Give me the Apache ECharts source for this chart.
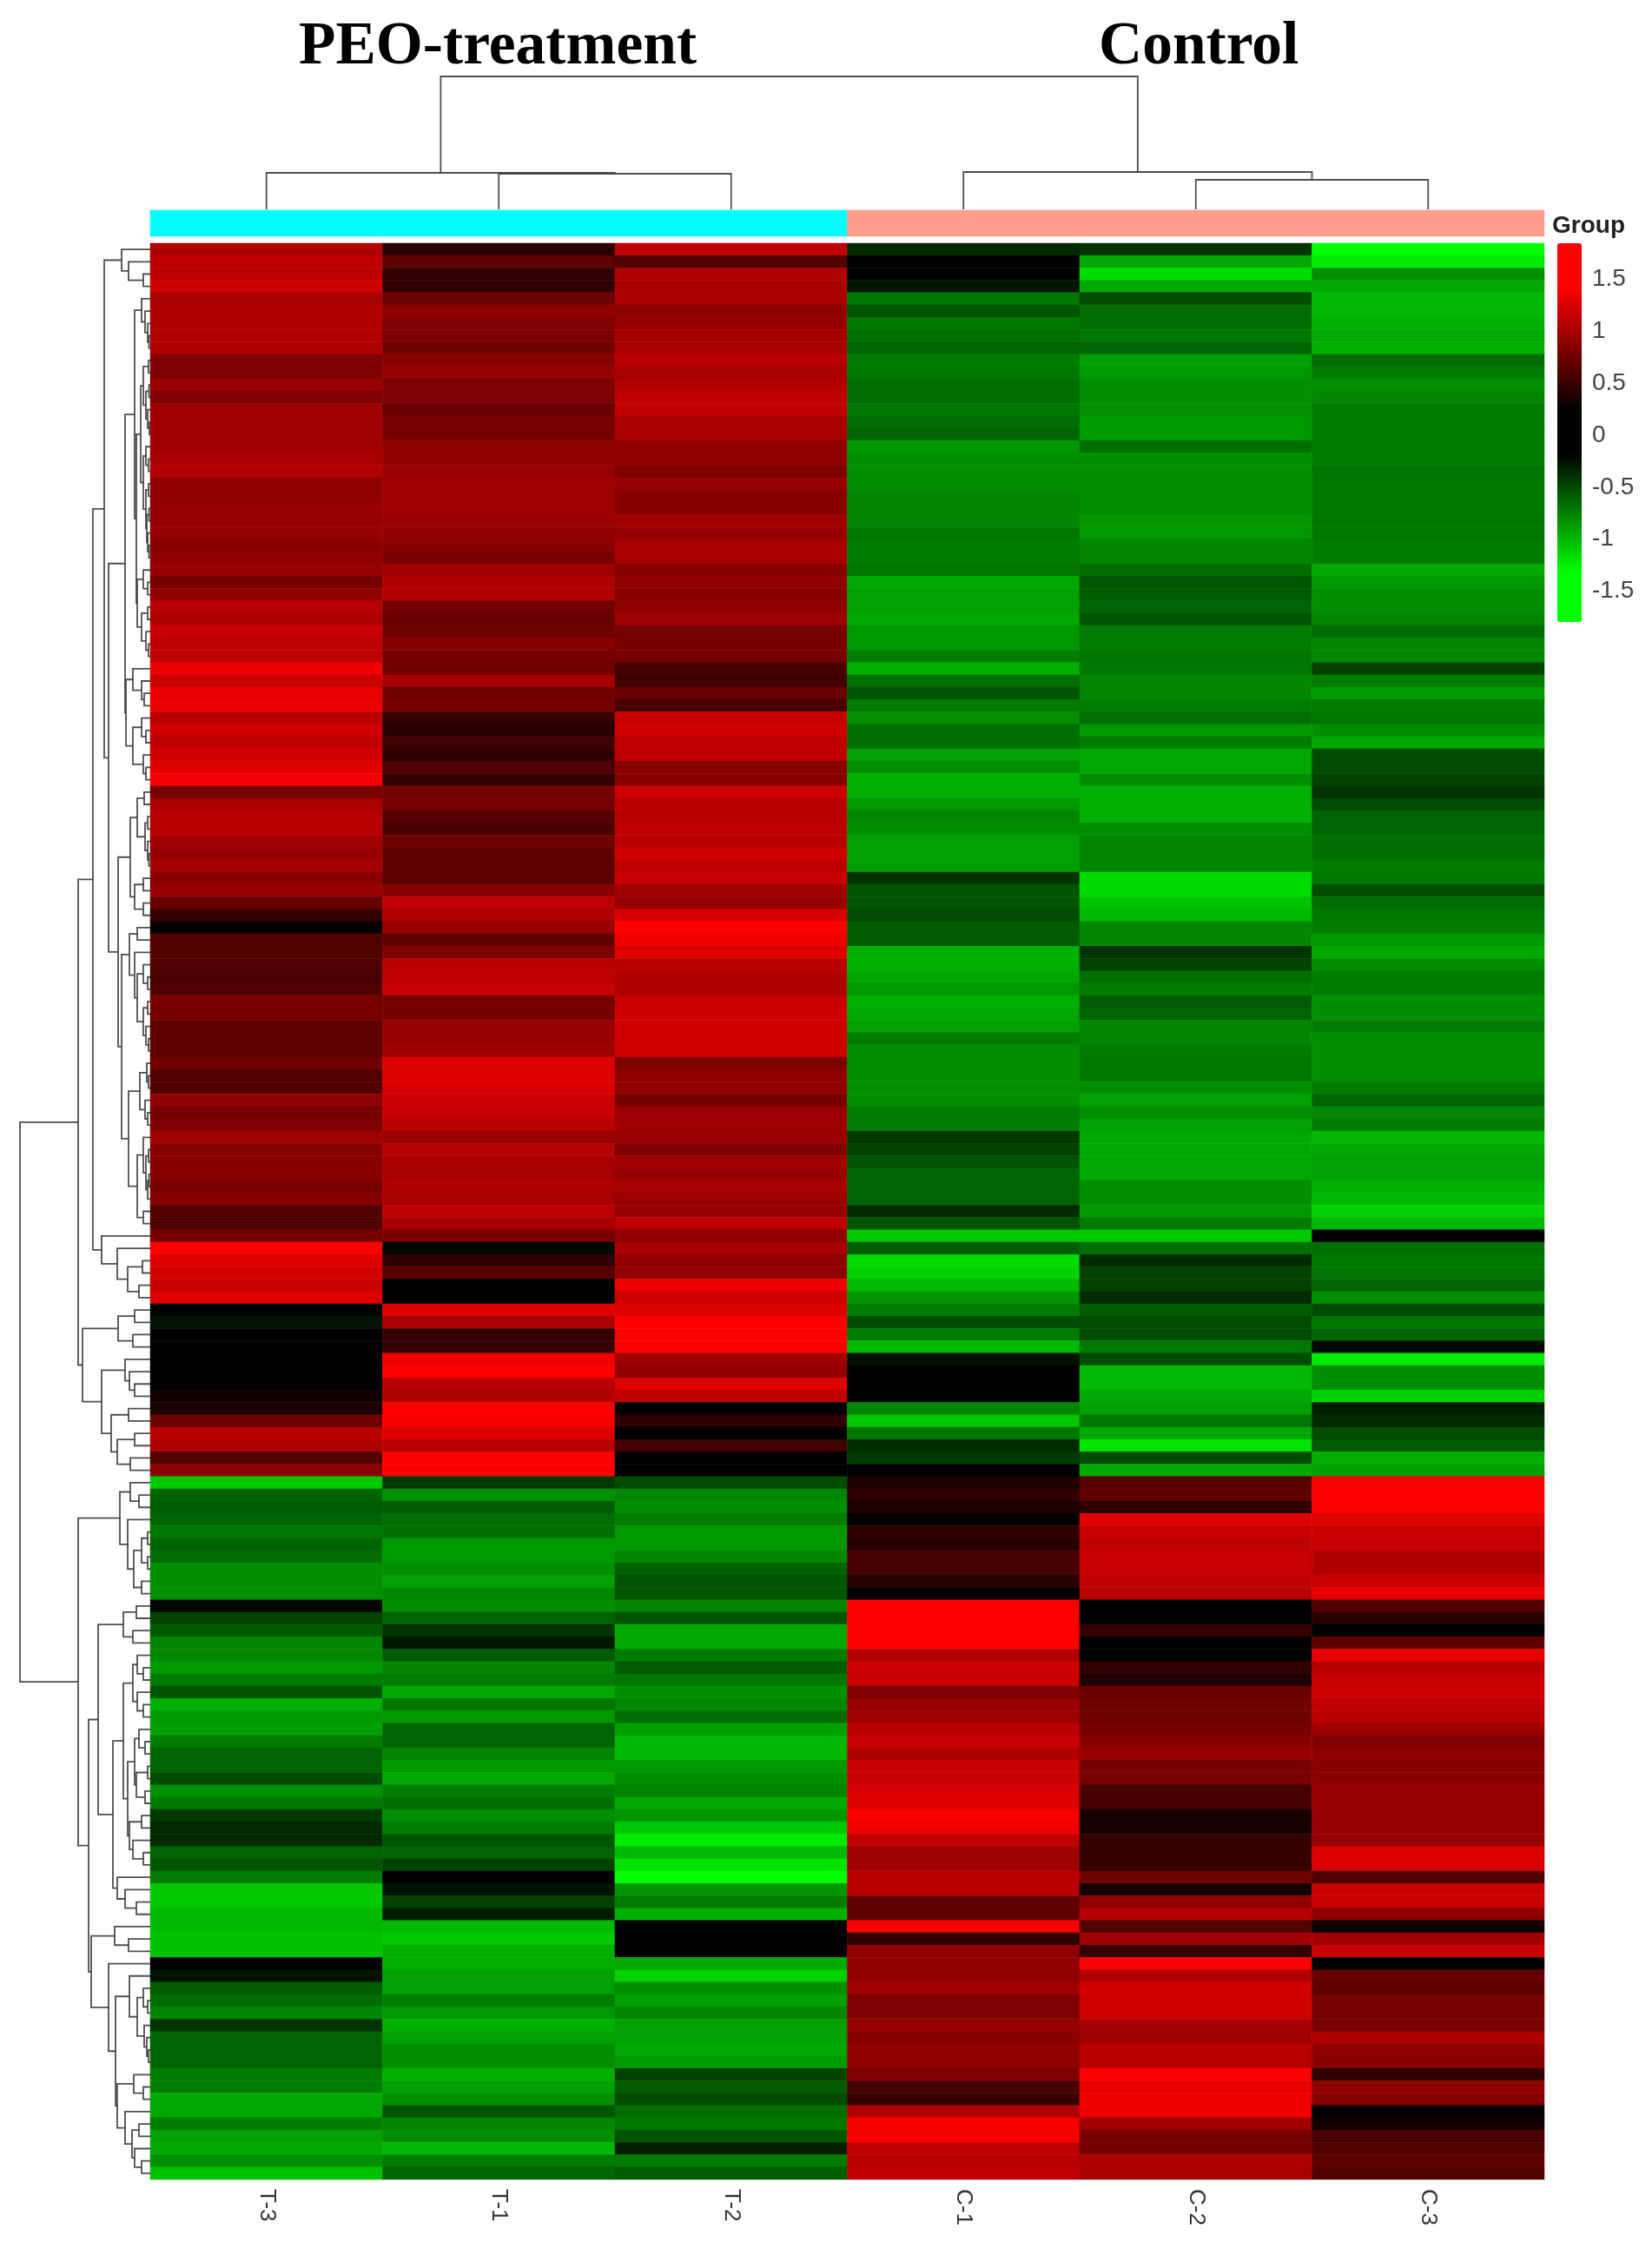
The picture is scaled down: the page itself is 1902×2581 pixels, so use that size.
<!DOCTYPE html>
<html>
<head>
<meta charset="utf-8">
<script src="https://cdn.jsdelivr.net/npm/echarts@6/dist/echarts.min.js"></script>
<style>
    html, body { margin: 0; padding: 0; background: #fff; }
    #chart { width: 1902px; height: 2581px; }
</style>
</head>
<body>
<div id="chart"></div>
<script>
// columns in the order they are drawn
const samples = ['T-3', 'T-1', 'T-2', 'C-1', 'C-2', 'C-3'];
const sampleGroups = ['PEO-treatment', 'PEO-treatment', 'PEO-treatment', 'Control', 'Control', 'Control'];
const legendTicks = [-1.5, -1, -0.5, 0, 0.5, 1, 1.5];

// z-scores, one value per row, top to bottom
const valuesT3 = [
    1.03,1.10,1.08,1.18,.99,1.03,1.03,1.03,1.03,.80,.80,.92,.80,.95,.95,.95,.95,.99,1.03,.88,.88,.92,.92,.92,.84,.88,.92,.76,.88,1.07,1.03,1.14,1.10,1.10,1.33,1.14,1.29,1.31,1.07,
    1.18,1.10,1.18,1.25,1.35,.76,.99,1.07,1.07,.95,.92,.99,.84,.92,.69,.46,.24,.58,.58,.58,.54,.58,.76,.76,.65,.65,.65,.73,.58,.58,.88,.76,.80,.95,.84,.84,.84,.76,.84,
    .58,.58,.76,1.6,1.25,1.18,1.14,1.25,-.22,-.28,0,0,0,0,0,.28,.34,.73,1.07,1.03,.58,.84,
    -1.10,-.65,-.61,-.65,-.73,-.65,-.69,-.84,-.84,-.84,-.24,-.50,-.61,-.80,-.80,-.88,-.76,-.58,-.99,-.88,-.92,-.76,-.65,-.65,-.54,-.84,-.73,-.46,-.39,-.39,-.65,-.58,-.76,-1.10,-1.10,-1.03,-1.03,-1.07,-1.07,0,-.28,-.61,-.69,-.80,-.43,-.65,-.65,-.65,-.76,-.76,-.95,-.95,-.76,-.92,-.95,-.84,-1.07
];
const valuesT1 = [
    .39,.65,.43,.43,.73,.88,.80,.80,.73,.84,.92,.80,.80,.69,.76,.76,.88,.88,.92,.95,.95,.95,.92,.88,.84,.76,.95,1.03,1.03,.73,.69,.73,.84,.76,.73,.99,.73,.76,.46,
    .39,.50,.43,.58,.46,.76,.76,.61,.54,.73,.65,.65,.65,.84,1.10,1.03,.92,.65,.80,1.07,1.10,1.14,.76,.76,.92,.92,.95,1.25,1.25,1.22,1.14,1.14,1.07,.92,1.07,.99,.99,1.03,.99,
    1.10,.99,.76,-.24,.43,.61,0,0,1.25,.99,.43,.46,1.33,1.6,1.07,1.03,1.6,1.37,1.25,1.07,1.6,1.6,
    -.46,-.84,-.61,-.69,-.69,-.88,-.88,-.84,-.92,-.80,-.84,-.65,-.43,-.31,-.61,-.80,-.76,-.95,-.73,-.88,-.65,-.65,-.80,-.88,-.95,-.76,-.69,-.84,-.76,-.58,-.65,-.50,0,-.28,-.50,-.34,-1.03,-1.10,-.99,-.99,-.92,-.92,-.76,-.88,-.99,-.92,-.84,-.84,-.99,-.92,-.84,-.58,-.80,-.84,-1.03,-.76,-.65
];
const valuesT2 = [
    1.10,.58,1.03,.99,.99,.88,.92,.99,.99,1.07,.99,1.03,1.10,1.10,.99,.99,.88,.88,.80,.92,.84,.84,.95,.92,.99,.99,.84,.88,.84,.88,.95,.76,.76,.76,.54,.50,.69,.54,1.14,
    1.18,1.10,1.10,.84,.84,1.18,1.07,1.07,1.10,1.07,1.18,1.10,1.14,.95,.92,1.22,1.6,1.33,1.25,1.07,1.03,1.03,1.14,1.18,1.18,1.18,1.18,.80,.88,.88,.76,.92,.95,.92,.80,.95,.92,.99,.92,
    .92,1.10,.88,.99,.88,.88,1.33,1.18,1.25,1.6,1.6,1.6,.95,.88,1.25,1.10,0,.43,.15,.50,0,0,
    -.54,-.80,-.84,-.76,-.88,-.88,-.80,-.65,-.58,-.58,-.80,-.58,-.95,-.95,-.76,-.61,-.73,-.84,-.80,-.69,-.92,-1.03,-1.03,-.88,-.84,-.80,-.95,-.88,-1.10,-1.25,-1.03,-1.22,-1.6,-.88,-.76,-.99,0,0,0,-.95,-1.14,-.84,-.92,-.80,-.92,-.92,-.95,-.88,-.50,-.61,-.54,-.69,-.73,-.58,-.34,-.76,-.61
];
const valuesC1 = [
    -.39,0,-.1,-.31,-.73,-.58,-.73,-.69,-.65,-.76,-.73,-.69,-.69,-.73,-.69,-.65,-.88,-.84,-.84,-.84,-.80,-.80,-.80,-.73,-.76,-.76,-.73,-.95,-.92,-.92,-.95,-.88,-.88,-.76,-.99,-.69,-.58,-.76,-.84,
    -.69,-.69,-.92,-.84,-.99,-.99,-.88,-.80,-.84,-.92,-.92,-.92,-.43,-.58,-.58,-.54,-.61,-.61,-.99,-.99,-.95,-.88,-.99,-.95,-.92,-.76,-.84,-.84,-.84,-.84,-.84,-.76,-.76,-.46,-.50,-.58,-.65,-.65,-.65,
    -.39,-.58,-1.10,-.61,-1.18,-1.14,-1.03,-.88,-.76,-.54,-.76,-1.03,-.28,-.1,-.1,0,-.80,-1.10,-.73,-.39,-.46,0,
    .34,.43,.34,0,.43,.39,.54,.54,.39,0,1.6,1.6,1.6,1.6,1.03,1.18,1.14,.80,.92,.95,1.07,1.14,1.03,1.14,1.14,1.22,1.25,1.37,1.33,1.10,.95,.95,1.07,1.07,.65,.65,1.6,.43,.88,.88,.88,.95,.80,.80,.92,.84,.88,.88,.80,.54,.46,1.03,1.37,1.37,1.10,1.07,1.10
];
const valuesC2 = [
    -.43,-.95,-1.18,-.95,-.54,-.69,-.69,-.73,-.65,-.92,-.88,-.84,-.84,-.84,-.88,-.88,-.69,-.84,-.84,-.84,-.84,-.84,-.88,-.88,-.80,-.80,-.69,-.58,-.61,-.65,-.58,-.76,-.76,-.73,-.73,-.80,-.80,-.76,-.69,
    -.88,-.76,-.95,-.95,-.84,-.99,-.99,-.99,-.84,-.80,-.80,-.80,-1.18,-1.18,-1.07,-1.03,-.80,-.80,-.43,-.50,-.69,-.76,-.61,-.65,-.80,-.80,-.76,-.73,-.73,-.84,-.92,-.84,-.92,-.95,-.95,-.95,-.95,-.84,-.84,
    -.88,-.76,-1.10,-.69,-.39,-.50,-.50,-.39,-.61,-.54,-.54,-.73,-.54,-1.03,-1.03,-.95,-.92,-.73,-.95,-1.22,-.54,-.95,
    .61,.65,.43,1.25,1.14,1.10,1.14,1.14,1.10,1.07,0,0,.46,0,.1,.43,.34,.69,.73,.73,.76,.84,.92,.76,.76,.54,.54,.31,.31,.46,.46,.46,.73,.31,.88,1.07,.58,.95,.46,1.6,1.03,1.18,1.18,1.18,.99,.95,1.07,1.07,1.6,1.29,1.33,1.33,.95,.76,.76,1.03,.99
];
const valuesC3 = [
    -1.6,-1.25,-.84,-.95,-1.03,-1.03,-.99,-.95,-.99,-.69,-.76,-.84,-.80,-.76,-.76,-.76,-.76,-.76,-.73,-.73,-.73,-.73,-.73,-.73,-.76,-.76,-.95,-.88,-.84,-.84,-.80,-.69,-.80,-.80,-.50,-.76,-.88,-.76,-.73,
    -.84,-.95,-.54,-.54,-.50,-.43,-.54,-.65,-.65,-.69,-.69,-.76,-.73,-.54,-.69,-.73,-.76,-.88,-.95,-.84,-.76,-.76,-.84,-.84,-.76,-.84,-.84,-.84,-.84,-.76,-.65,-.80,-.76,-1.03,-.95,-.92,-.92,-.99,-1.03,
    -1.14,-1.03,0,-.69,-.73,-.73,-.65,-.84,-.54,-.73,-.65,-.24,-1.25,-.84,-.84,-1.14,-.34,-.39,-.54,-.61,-.99,-.92,
    1.6,1.6,1.6,1.25,1.14,1.14,1.03,1.03,1.14,1.29,.58,.39,0,.65,1.29,1.07,1.14,1.18,1.10,1.07,.95,.80,.88,.84,.84,.92,.92,.92,.92,.92,1.25,1.22,.58,1.14,1.14,.88,.28,.95,1.14,0,.69,.65,.76,.76,.76,1.03,.88,.84,.43,.88,.84,0,.28,.54,.58,.65,.58
];

// dendrograms: [height, left, right], a plain number is a leaf
const columnTree = [153, [42, 0, [41, 1, 2]], [43, 3, [34, 4, 5]]];
const rowTree = [150,
    [83,
        [66,
            [53,
                [33, 0, [25, 1, [8, 2, 3]]],
                [48,
                    [29,
                        [18,
                            [10, 4, [6, 5, [3, 6, [1.5, 7, 8]]]],
                            [16,
                                [11,
                                    [8, [2, 9, 10], [5, [1.5, 11, 12], [3, 13, [1, 14, 15]]]],
                                    [8, [5, 16, [2, 17, 18]], [5, [2, 19, 20], [4, [1.5, 21, 22], [3, 23, [1.5, 24, 25]]]]]
                                ],
                                [15,
                                    [8, 26, [3, 27, 28]],
                                    [10, [3, 29, 30], [5, 31, [2, 32, 33]]]
                                ]
                            ]
                        ],
                        [28,
                            [20, 34, [10, 35, [7, 36, 37]]],
                            [20, [10, 38, [5, 39, 40]], [8, 41, [5, 42, 43]]]
                        ]
                    ],
                    [37,
                        [23,
                            [15, [7, 44, 45], [6, [3, 46, 47], [3, 48, [1.5, 49, 50]]]],
                            [18, [8, 51, 52], [8, 53, 54]]
                        ],
                        [33,
                            [24,
                                [15, 55, 56],
                                [18, 57, [15, [8, 58, [3, 59, 60]], [8, [3, 61, 62], [5, 63, [2, 64, 65]]]]]
                            ],
                            [25,
                                [12, [4, 66, [2, 67, 68]], [6, 69, [3, 70, 71]]],
                                [15, [8, 72, [5, [2, 73, 74], [3, [1.5, 75, 76], 77]]], [8, 78, 79]]
                            ]
                        ]
                    ]
                ]
            ],
            [56, 80, [38, 81, [26, [9, 82, 83], [13, 84, 85]]]]
        ],
        [78,
            [37, [18, 86, 87], [20, 88, 89]],
            [56,
                [29, 90, [24, 91, [18, 92, 93]]],
                [45, [25, 94, 95], [38, [18, 96, 97], [23, 98, 99]]]
            ]
        ]
    ],
    [83,
        [35,
            [23, 100, [13, 101, 102]],
            [26, 103, [19, [10, [3, 104, 105], [3, 106, 107]], [10, 108, 109]]]
        ],
        [71,
            [60,
                [31, [16, 110, 111], [20, 112, 113]],
                [43,
                    [31,
                        [20, [15, 114, [8, 115, 116]], [15, 117, [8, 118, 119]]],
                        [26,
                            [18, [13, 120, [6, 121, 122]], [16, [3, 123, 124], [6, 125, 126]]],
                            [24, [10, 127, 128], [20, 129, [8, 130, 131]]]
                        ]
                    ],
                    [38, 132, [29, 133, [16, 134, 135]]]
                ]
            ],
            [68,
                [41, 136, [25, 137, 138]],
                [48,
                    139,
                    [40,
                        [24, 140, [15, [8, 141, [3, 142, 143]], [7, 144, [4, 145, [2, 146, 147]]]]],
                        [38,
                            [19, 148, [8, 149, 150]],
                            [29, 151, [21, [13, 152, 153], [18, 154, [10, 155, 156]]]]
                        ]
                    ]
                ]
            ]
        ]
    ]
];

const sampleValues = [valuesT3, valuesT1, valuesT2, valuesC1, valuesC2, valuesC3];
const rowCount = valuesT3.length;
const rowNames = valuesT3.map((v, i) => 'row' + i);

let heatData = [];
sampleValues.forEach((column, c) => {
    column.forEach((v, r) => heatData.push([c, r, v]));
});

// black around zero, pure green/red from about +-1.4, same as the legend
let colorStops = [];
for (let i = 0; i <= 72; i++) {
    let v = -1.82 + i * 3.64 / 72;
    let span = v < 0 ? 1.14 : 1.2;
    let level = Math.min(1, Math.max(0, (Math.abs(v) - 0.2) / span));
    let shade = Math.round(level * 255);
    colorStops.push(v < 0 ? `rgb(0,${shade},0)` : `rgb(${shade},0,0)`);
}

// returns position of node and pushes its bracket as polyline
function walkTree(node, makePoint, out) {
    if (typeof node === 'number') {
        return {pos: node + 0.5, h: 0};
    }
    let a = walkTree(node[1], makePoint, out);
    let b = walkTree(node[2], makePoint, out);
    out.push({
        coords: [
            makePoint(a.pos, a.h),
            makePoint(a.pos, node[0]),
            makePoint(b.pos, node[0]),
            makePoint(b.pos, b.h)
        ]
    });
    return {pos: (a.pos + b.pos) / 2, h: node[0]};
}

let columnLines = [];
walkTree(columnTree, (p, h) => [p, h], columnLines);
let rowLines = [];
walkTree(rowTree, (p, h) => [h, p], rowLines);

const treeLine = {color: '#3c3c3c', width: 1.8, opacity: 0.9};
const groupColors = {'PEO-treatment': '#00ffff', 'Control': '#ff9c91'};

let chart = echarts.init(document.getElementById('chart'), null, {renderer: 'canvas'});
chart.setOption({
    animation: false,
    backgroundColor: '#ffffff',
    title: [
        {text: 'PEO-treatment', left: 344, top: 20, padding: 0,
            textStyle: {fontFamily: 'Liberation Serif', fontWeight: 'bold', fontSize: 69.5, color: '#000'}},
        {text: 'Control', left: 1265, top: 20, padding: 0,
            textStyle: {fontFamily: 'Liberation Serif', fontWeight: 'bold', fontSize: 69.5, color: '#000'}},
        {text: 'Group', left: 1787, top: 246, padding: 0,
            textStyle: {fontFamily: 'Liberation Sans', fontWeight: 'bold', fontSize: 28, color: '#222'}}
    ],
    grid: [
        {left: 173, top: 280, width: 1605, height: 2229},
        {left: 173, top: 242, width: 1605, height: 30},
        {left: 173, top: 80, width: 1605, height: 161},
        {left: 0, top: 280, width: 173, height: 2229},
        {left: 1793, top: 283, width: 28, height: 436}
    ],
    xAxis: [
        {
            type: 'category', gridIndex: 0, data: samples, position: 'bottom',
            axisLine: {show: false}, axisTick: {show: false}, splitLine: {show: false},
            axisLabel: {rotate: -90, margin: 11, fontSize: 26, fontFamily: 'Liberation Sans', color: '#333', interval: 0}
        },
        {type: 'category', gridIndex: 1, data: samples, show: false},
        {type: 'value', gridIndex: 2, min: 0, max: 6, show: false},
        {type: 'value', gridIndex: 3, min: 0, max: 173, inverse: true, show: false},
        {type: 'value', gridIndex: 4, min: 0, max: 1, show: false}
    ],
    yAxis: [
        {type: 'category', gridIndex: 0, data: rowNames, inverse: true, show: false},
        {type: 'category', gridIndex: 1, data: ['Group'], show: false},
        {type: 'value', gridIndex: 2, min: 0, max: 161, show: false},
        {type: 'value', gridIndex: 3, min: 0, max: rowCount, inverse: true, show: false},
        {
            type: 'value', gridIndex: 4, min: -1.82, max: 1.82, position: 'right',
            axisLine: {show: false}, axisTick: {show: false}, splitLine: {show: false},
            axisLabel: {
                customValues: legendTicks, margin: 12, fontSize: 28,
                fontFamily: 'Liberation Sans', color: '#444', align: 'left'
            }
        }
    ],
    visualMap: {
        type: 'continuous', seriesIndex: 0, min: -1.82, max: 1.82, calculable: false, hoverLink: false,
        left: 1793, top: 280, itemWidth: 28, itemHeight: 436, padding: 0, text: ['', ''],
        inRange: {color: colorStops}
    },
    series: [
        {
            type: 'heatmap', xAxisIndex: 0, yAxisIndex: 0, data: heatData, silent: true, progressive: 0,
            emphasis: {disabled: true}
        },
        {
            type: 'heatmap', xAxisIndex: 1, yAxisIndex: 1, silent: true,
            data: sampleGroups.map((g, c) => ({value: [c, 0, 1], itemStyle: {color: groupColors[g]}}))
        },
        {
            type: 'lines', coordinateSystem: 'cartesian2d', xAxisIndex: 2, yAxisIndex: 2,
            polyline: true, silent: true, data: columnLines, lineStyle: treeLine
        },
        {
            type: 'lines', coordinateSystem: 'cartesian2d', xAxisIndex: 3, yAxisIndex: 3,
            polyline: true, silent: true, data: rowLines, lineStyle: treeLine
        }
    ]
});
</script>
</body>
</html>
